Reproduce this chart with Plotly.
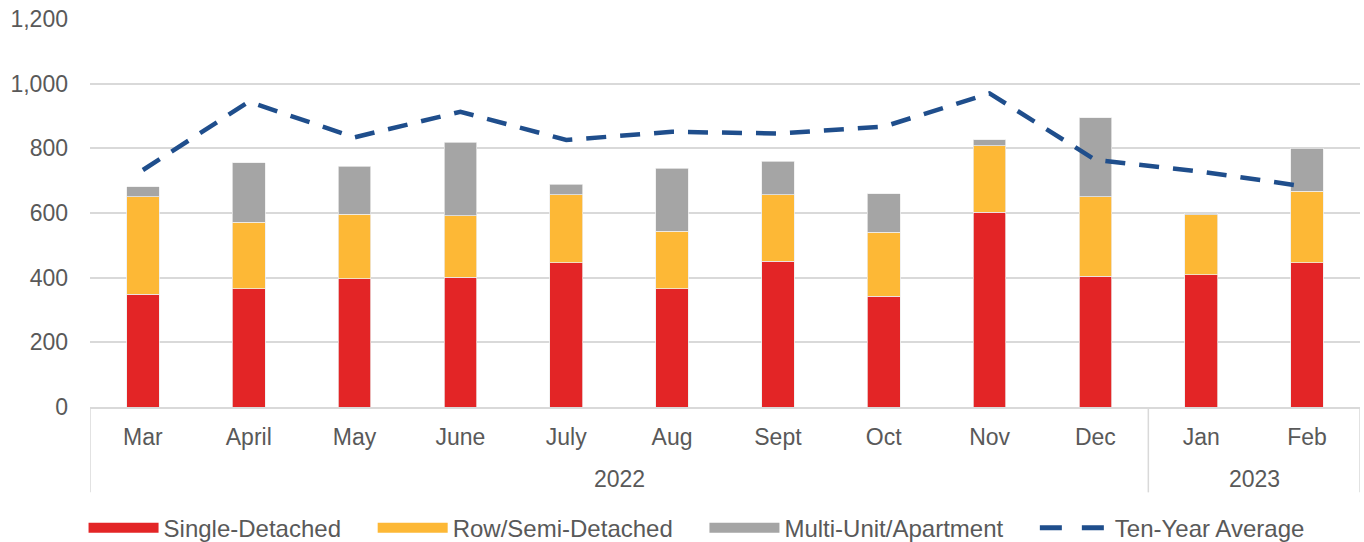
import plotly.graph_objects as go

months = ["Mar", "April", "May", "June", "July", "Aug", "Sept", "Oct", "Nov", "Dec", "Jan", "Feb"]
years = ["2022"] * 10 + ["2023"] * 2

single_detached = [349, 365, 396, 402, 446, 365, 451, 343, 603, 405, 409, 446]
row_semi = [301, 207, 200, 189, 210, 178, 205, 197, 205, 245, 185, 221]
multi_unit = [31, 183, 149, 228, 33, 196, 104, 120, 19, 244, 6, 133]
ten_year_avg = [733, 944, 834, 913, 826, 851, 846, 867, 970, 764, 728, 681]

RED = "#E32526"
ORANGE = "#FDB836"
GREY = "#A5A5A5"
BLUE = "#1F4E8C"
TEXT = "#595959"
GRID = "#D9D9D9"
PAD = "\u00a0" * 4

fig = go.Figure()
for name, vals, col in [("Single-Detached", single_detached, RED),
                        ("Row/Semi-Detached", row_semi, ORANGE),
                        ("Multi-Unit/Apartment", multi_unit, GREY)]:
    fig.add_trace(go.Bar(x=months, y=vals, name=name,
                         marker=dict(color=col, line=dict(width=0.75, color="#EDEDED")),
                         showlegend=False))
    fig.add_trace(go.Scatter(x=[None], y=[None], mode="lines", name=name + PAD,
                             line=dict(color=col, width=11), showlegend=True))

fig.add_trace(go.Scatter(x=months, y=ten_year_avg, mode="lines", name="Ten-Year Average",
                         line=dict(color=BLUE, width=4.5, dash="20px,14px"), showlegend=False))
fig.add_trace(go.Scatter(x=[None], y=[None], mode="lines", name="Ten-Year Average",
                         line=dict(color=BLUE, width=5, dash="22px,20px"), showlegend=True))

# year group labels and dividers (computed from the years list)
groups = []
start = 0
for i in range(1, len(years) + 1):
    if i == len(years) or years[i] != years[start]:
        groups.append((years[start], start, i - 1))
        start = i

YEAR_Y = -0.186
DIV_Y = -0.22
for label, a, b in groups:
    fig.add_annotation(x=(a + b) / 2, y=YEAR_Y, xref="x", yref="paper", text=label,
                       showarrow=False, font=dict(size=23, color=TEXT), yanchor="middle")
bounds = [groups[0][1] - 0.5] + [g[2] + 0.5 for g in groups]
for bx in bounds:
    fig.add_shape(type="line", xref="x", yref="paper", x0=bx, x1=bx, y0=0, y1=DIV_Y,
                  line=dict(color=GRID, width=1.5))

fig.update_layout(
    width=1364, height=542, autosize=False,
    barmode="stack", bargap=0.69,
    plot_bgcolor="white", paper_bgcolor="white",
    margin=dict(l=90, r=4, t=19, b=135, autoexpand=False),
    font=dict(family="Liberation Sans, Arial, sans-serif", size=23, color=TEXT),
    showlegend=True,
    legend=dict(orientation="h", x=0.4776, xanchor="center", y=-0.312, yanchor="middle",
                font=dict(size=24, color=TEXT), itemwidth=70, traceorder="normal"),
    xaxis=dict(type="category", showline=True, linecolor=GRID, linewidth=1.5,
               range=[-0.5, len(months) - 0.5], automargin=False,
               tickfont=dict(size=23, color=TEXT), showgrid=False, ticks="",
               ticklabelstandoff=9),
    yaxis=dict(range=[0, 1200], dtick=200, tickformat=",", showgrid=True, gridcolor=GRID,
               gridwidth=1.5, zeroline=False, showline=False, ticklabelstandoff=21,
               automargin=False, tickfont=dict(size=23, color=TEXT)),
)

fig.write_html("out.html", config={"responsive": False, "displayModeBar": False},
               post_script="document.body.style.margin='0';document.body.style.overflow='hidden';")
